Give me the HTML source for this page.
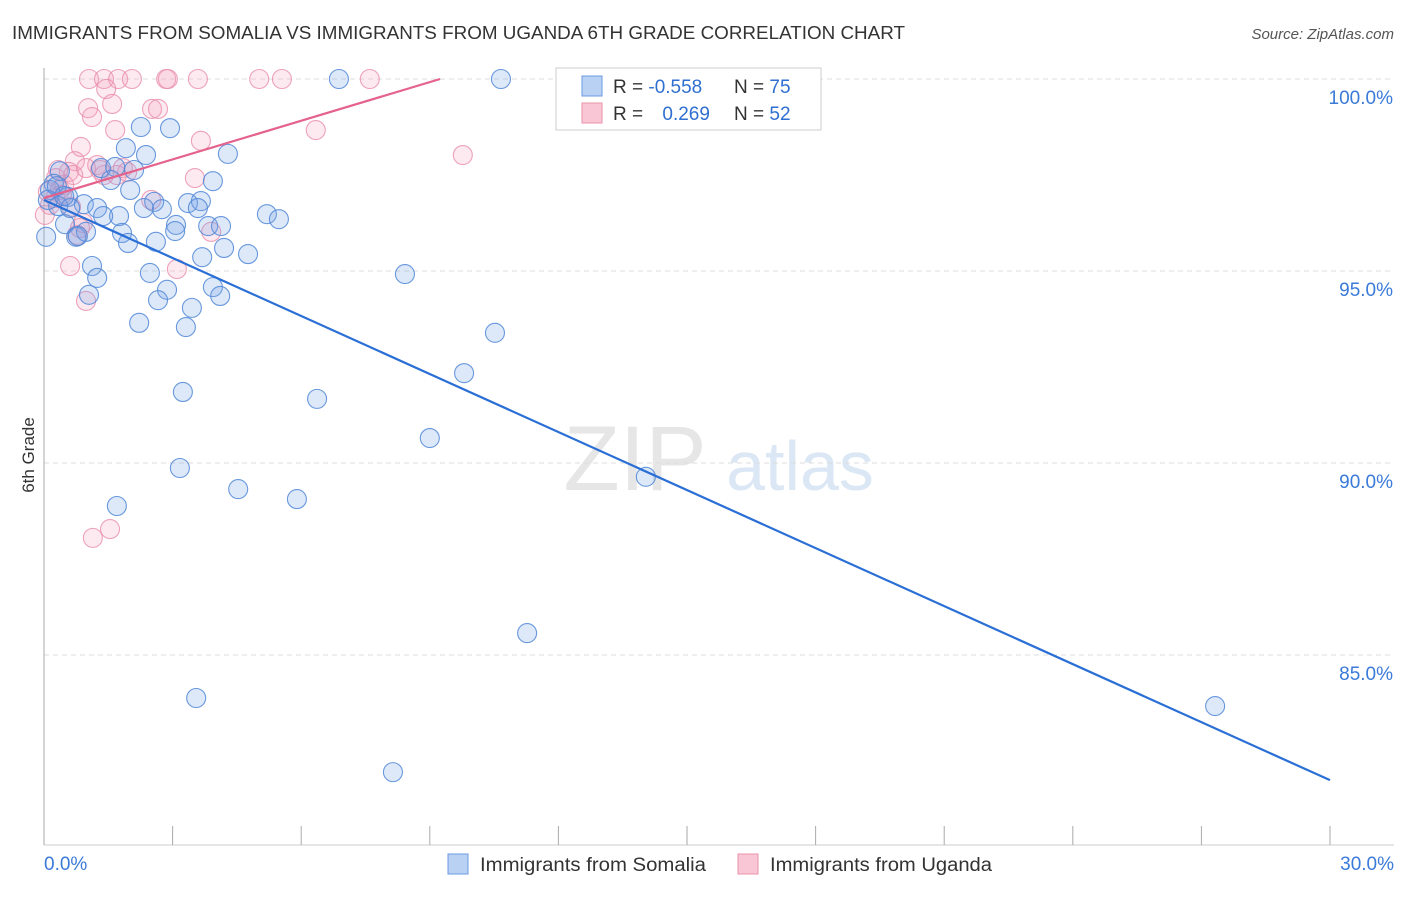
<!DOCTYPE html>
<html><head><meta charset="utf-8"><style>
body{margin:0;background:#fff;font-family:"Liberation Sans",sans-serif}
svg text{font-family:"Liberation Sans",sans-serif}
</style></head><body>
<svg id="chart" width="1406" height="892">
<text x="12" y="39" font-size="18" fill="#333" textLength="893" lengthAdjust="spacingAndGlyphs">IMMIGRANTS FROM SOMALIA VS IMMIGRANTS FROM UGANDA 6TH GRADE CORRELATION CHART</text>
<text x="1394" y="39" font-size="15" fill="#555" font-style="italic" text-anchor="end">Source: ZipAtlas.com</text>
<text x="34" y="455" font-size="17" fill="#333" text-anchor="middle" transform="rotate(-90 34 455)">6th Grade</text>
<g><text x="635" y="490" font-size="92" fill="#e6e6e6" font-family="Liberation Serif" text-anchor="middle">ZIP</text><text x="800" y="490" font-size="70" fill="#dbe7f5" text-anchor="middle">atlas</text></g>
<g id="grid"></g><g id="axes"></g><g id="pts"></g><g id="lines"></g>
<g>
<rect x="556" y="68" width="265" height="62" fill="#fff" stroke="#ccc"/>
<rect x="582" y="76" width="20" height="20" fill="#b9d1f3" stroke="#6b9be0"/>
<rect x="582" y="103" width="20" height="20" fill="#f9c6d5" stroke="#ea93ad"/>
<text x="613" y="93" font-size="19" fill="#333">R = <tspan fill="#2f6fd0">-0.558</tspan></text>
<text x="734" y="93" font-size="19" fill="#333">N = <tspan fill="#2f6fd0">75</tspan></text>
<text x="613" y="120" font-size="19" fill="#333">R = <tspan fill="#2f6fd0" dx="14">0.269</tspan></text>
<text x="734" y="120" font-size="19" fill="#333">N = <tspan fill="#2f6fd0">52</tspan></text>
</g>
<g>
<rect x="448" y="854" width="20" height="20" fill="#b9d1f3" stroke="#6b9be0"/>
<text x="480" y="871" font-size="19" fill="#333" textLength="226" lengthAdjust="spacingAndGlyphs">Immigrants from Somalia</text>
<rect x="738" y="854" width="20" height="20" fill="#f9c6d5" stroke="#ea93ad"/>
<text x="770" y="871" font-size="19" fill="#333" textLength="222" lengthAdjust="spacingAndGlyphs">Immigrants from Uganda</text>
</g>
</svg>
<script>
const yTicks=[100,95,90,85];
const yTickLabels=["100.0%","95.0%","90.0%","85.0%"];
const xTicks=[0,3,6,9,12,15,18,21,24,27,30];
const blueX=[6.88,10.66,2.26,2.94,1.91,2.38,4.29,0.37,1.33,1.66,2.10,1.56,3.94,0.23,2.01,0.56,0.93,1.24,2.57,3.36,3.66,2.75,2.33,3.59,1.75,1.38,0.33,5.20,5.48,3.08,3.83,4.13,0.49,1.82,3.06,0.75,1.96,2.61,4.20,4.76,3.69,1.12,2.47,1.24,8.42,2.87,3.94,1.05,2.66,4.11,3.45,2.22,3.31,10.52,9.80,3.24,6.37,9.00,3.17,14.04,4.53,5.90,1.70,11.27,3.55,27.32,8.14,0.05,0.14,0.30,0.61,0.09,0.47,0.98,0.79];
const blueY=[100,100,98.75,98.72,98.20,98.02,98.05,97.60,97.68,97.71,97.63,97.37,97.34,97.27,97.11,96.93,96.74,96.64,96.80,96.77,96.82,96.61,96.64,96.64,96.43,96.43,96.69,96.48,96.35,96.20,96.17,96.17,96.22,95.99,96.04,95.89,95.73,95.76,95.60,95.44,95.36,95.13,94.95,94.82,94.92,94.51,94.58,94.38,94.24,94.35,94.04,93.65,93.54,93.39,92.34,91.85,91.67,90.65,89.87,89.64,89.32,89.06,88.88,85.57,83.88,83.67,81.95,95.89,97.11,97.21,96.64,96.85,96.95,96.02,95.91];
const pinkX=[1.05,1.40,1.73,2.05,2.85,2.89,3.59,5.02,5.55,7.60,1.45,1.03,1.59,1.12,2.52,2.66,1.66,3.66,6.34,9.77,0.86,0.72,1.24,1.84,1.70,0.58,0.28,0.47,0.09,0.26,3.52,2.50,0.63,0.91,3.90,0.77,0.61,3.10,0.98,1.14,1.54,0.02,0.37,0.68,1.40,1.94,0.42,0.98,0.14,0.84,1.31,0.33];
const pinkY=[100,100,100,100,100,100,100,100,100,100,99.74,99.24,99.35,99.01,99.22,99.22,98.67,98.39,98.67,98.02,98.23,97.86,97.76,97.68,97.50,97.58,97.42,97.24,97.06,96.90,97.42,96.85,96.67,96.25,96.02,95.94,95.13,95.05,94.22,88.05,88.28,96.46,97.11,97.50,97.50,97.58,96.98,97.68,96.72,96.12,97.63,97.63];
const blueTrend=[[0,96.85],[30,81.74]];
const pinkTrend=[[0,96.9],[9.24,100]];
const NS="http://www.w3.org/2000/svg";
const sx=v=>44+v*42.867, sy=v=>79+(100-v)*38.4;
function mk(tag,attrs,parent){const e=document.createElementNS(NS,tag);for(const k in attrs)e.setAttribute(k,attrs[k]);document.getElementById(parent).appendChild(e);return e;}
yTicks.forEach((t,i)=>{
 const g=mk('line',{x1:44,x2:1394,y1:sy(t),y2:sy(t),stroke:'#ddd','stroke-dasharray':'5,4'},'grid');
 
 
 const tx=mk('text',{x:1393,y:sy(t)+25,'font-size':19,fill:'#3a7ad8','text-anchor':'end'},'grid');tx.textContent=yTickLabels[i];
 
 
});
const ax=mk('line',{x1:44,x2:44,y1:68,y2:845,stroke:'#aaa'},'axes');


const bx=mk('line',{x1:44,x2:1394,y1:845,y2:845,stroke:'#ccc'},'axes');


xTicks.forEach(t=>{const l=mk('line',{x1:sx(t),x2:sx(t),y1:826,y2:845,stroke:'#aaa'},'axes');
 
 });
let t0=mk('text',{x:44,y:870,'font-size':19,fill:'#3a7ad8'},'axes');t0.textContent='0.0%';


let t1=mk('text',{x:1394,y:870,'font-size':19,fill:'#3a7ad8','text-anchor':'end'},'axes');t1.textContent='30.0%';


pinkX.forEach((x,i)=>{const c=mk('circle',{cx:sx(x),cy:sy(pinkY[i]),r:9.5,fill:'rgba(244,160,185,0.22)',stroke:'rgba(232,140,170,0.8)','stroke-width':1.1},'pts');
 
 });
blueX.forEach((x,i)=>{const c=mk('circle',{cx:sx(x),cy:sy(blueY[i]),r:9.5,fill:'rgba(120,165,230,0.25)',stroke:'rgba(80,135,215,0.85)','stroke-width':1.1},'pts');
 
 });
const lb=mk('line',{x1:sx(blueTrend[0][0]),y1:sy(blueTrend[0][1]),x2:sx(blueTrend[1][0]),y2:sy(blueTrend[1][1]),stroke:'#2a6fd6','stroke-width':2.2},'lines');


const lp=mk('line',{x1:sx(pinkTrend[0][0]),y1:sy(pinkTrend[0][1]),x2:sx(pinkTrend[1][0]),y2:sy(pinkTrend[1][1]),stroke:'#e4628b','stroke-width':2.2},'lines');


</script>
</body></html>
